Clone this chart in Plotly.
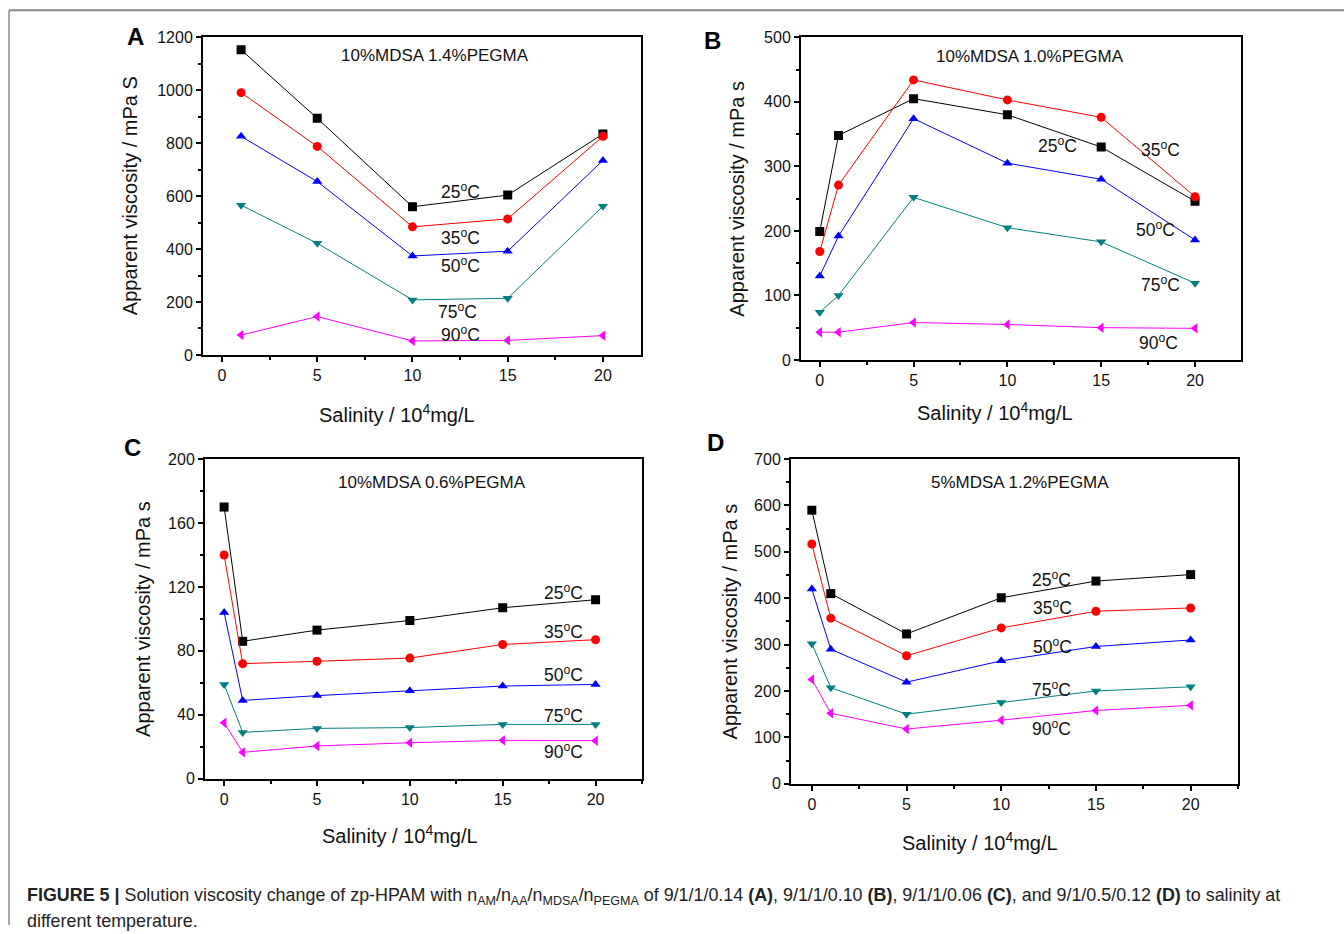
import plotly.graph_objects as go

W, H = 1344, 934
# empirical vertical mapping of the photographed page: shown_y = 0.98*fig_y + 7.7
VS, VO = 0.98, 7.7

temps = ["25", "35", "50", "75", "90"]
colors = ["#000000", "#FF0000", "#0000FF", "#008080", "#FF00FF"]
symbols = ["square", "circle", "triangle-up", "triangle-down", "triangle-left"]

# Panel A
xA = [1, 5, 10, 15, 20]
A_25 = [1153, 894, 560, 604, 835]
A_35 = [991, 788, 484, 514, 826]
A_50 = [826, 655, 374, 392, 735]
A_75 = [566, 422, 208, 214, 562]
A_90 = [75, 145, 53, 55, 73]

# Panel B
xB = [0, 1, 5, 10, 15, 20]
B_25 = [199, 348, 405, 380, 330, 246]
B_35 = [168, 271, 434, 403, 376, 253]
B_50 = [130, 192, 374, 305, 280, 186]
B_75 = [74, 100, 252, 205, 183, 119]
B_90 = [43, 43, 58, 55, 50, 49]

# Panel C
xC = [0, 1, 5, 10, 15, 20]
C_25 = [170, 86, 93, 99, 107, 112]
C_35 = [140, 72, 73.5, 75.5, 84, 87]
C_50 = [104, 49, 52, 55, 58, 59]
C_75 = [59, 29, 31.5, 32, 34, 34]
C_90 = [35, 16.5, 20.5, 22.5, 24, 23.8]

# Panel D
xD = [0, 1, 5, 10, 15, 20]
D_25 = [590, 410, 323, 401, 437, 451]
D_35 = [517, 357, 276, 336, 372, 379]
D_50 = [420, 290, 219, 265, 296, 310]
D_75 = [302, 207, 150, 175, 200, 209]
D_90 = [225, 152, 118, 137, 158, 169]

panels = [
    dict(name="A", x=xA, ys=[A_25, A_35, A_50, A_75, A_90], ymax=1200, dy=200,
         xr=[-1.0, 22.0], box=(203, 641, 37, 354),
         title="10%MDSA 1.4%PEGMA", title_xy=(435, 55),
         ylab="Apparent viscosity / mPa S", ylab_x=130, xlab_xy=(397, 412),
         letter_xy=(135, 36),
         temp_xy=[(460, 190), (460, 236), (460, 264), (457, 310), (460, 333)]),
    dict(name="B", x=xB, ys=[B_25, B_35, B_50, B_75, B_90], ymax=500, dy=100,
         xr=[-1.0, 22.45], box=(801, 1241, 37, 359),
         title="10%MDSA 1.0%PEGMA", title_xy=(1030, 56),
         ylab="Apparent viscosity / mPa s", ylab_x=737, xlab_xy=(995, 410),
         letter_xy=(712, 40),
         temp_xy=[(1057, 144), (1160, 148), (1155, 228), (1160, 283), (1158, 341)]),
    dict(name="C", x=xC, ys=[C_25, C_35, C_50, C_75, C_90], ymax=200, dy=40,
         xr=[-1.03, 22.5], box=(205, 642, 458, 777),
         title="10%MDSA 0.6%PEGMA", title_xy=(432, 481),
         ylab="Apparent viscosity / mPa s", ylab_x=143, xlab_xy=(400, 833),
         letter_xy=(132, 446),
         temp_xy=[(563, 591), (563, 630), (563, 672), (563, 713), (563, 749)]),
    dict(name="D", x=xD, ys=[D_25, D_35, D_50, D_75, D_90], ymax=700, dy=100,
         xr=[-1.1, 22.5], box=(791, 1238, 458, 782),
         title="5%MDSA 1.2%PEGMA", title_xy=(1020, 481),
         ylab="Apparent viscosity / mPa s", ylab_x=730, xlab_xy=(980, 840),
         letter_xy=(715, 441),
         temp_xy=[(1051, 578), (1052, 606), (1052, 645), (1051, 687), (1051, 726)]),
]

FONT = "Liberation Sans, Arial, sans-serif"

fig = go.Figure()
annotations = []
shapes = []


def px(x):
    return x / W


def py(y):
    return 1 - ((y - VO) / VS) / H


for i, p in enumerate(panels):
    k = "" if i == 0 else str(i + 1)
    xa, ya = "x" + k, "y" + k
    x0, x1, y0, y1 = p["box"]
    for t, c, s, yv in zip(temps, colors, symbols, p["ys"]):
        fig.add_trace(go.Scatter(
            x=p["x"], y=yv, mode="lines+markers", xaxis=xa, yaxis=ya,
            line=dict(color=c, width=1),
            marker=dict(symbol=s, color=c, size=9, line=dict(width=0)),
            showlegend=False, name=t + "°C"))
    axis_common = dict(showgrid=False, zeroline=False, showline=True,
                       linecolor="black", linewidth=2, mirror=True,
                       ticks="outside", tickwidth=2, ticklen=5,
                       tickcolor="black",
                       tickfont=dict(family=FONT, size=16, color="#111"))
    fig.layout["xaxis" + k] = dict(
        axis_common, domain=[px(x0), px(x1)], range=p["xr"],
        anchor=ya, tick0=0, dtick=5,
        minor=dict(ticks="outside", ticklen=3, tickwidth=1.5, dtick=2.5,
                   tick0=0, tickcolor="black"))
    fig.layout["yaxis" + k] = dict(
        axis_common, domain=[py(y1), py(y0)], range=[0, p["ymax"]],
        anchor=xa, tick0=0, dtick=p["dy"],
        minor=dict(ticks="outside", ticklen=3, tickwidth=1.5,
                   dtick=p["dy"] / 2, tick0=0, tickcolor="black"))
    annotations.append(dict(
        x=px(p["title_xy"][0]), y=py(p["title_xy"][1]), xref="paper",
        yref="paper", text=p["title"], showarrow=False,
        font=dict(family=FONT, size=17, color="#111"),
        xanchor="center", yanchor="middle"))
    for t, (tx, ty) in zip(temps, p["temp_xy"]):
        annotations.append(dict(
            x=px(tx), y=py(ty), xref="paper", yref="paper",
            text=t + "<sup>o</sup>C", showarrow=False,
            font=dict(family=FONT, size=17.5, color="#111"),
            xanchor="center", yanchor="middle"))
    annotations.append(dict(
        x=px(p["ylab_x"]), y=py((y0 + y1) / 2), xref="paper", yref="paper",
        text=p["ylab"], textangle=-90, showarrow=False,
        font=dict(family=FONT, size=20, color="#111"),
        xanchor="center", yanchor="middle"))
    annotations.append(dict(
        x=px(p["xlab_xy"][0]), y=py(p["xlab_xy"][1]), xref="paper",
        yref="paper", text="Salinity / 10<sup>4</sup>mg/L", showarrow=False,
        font=dict(family=FONT, size=20, color="#111"),
        xanchor="center", yanchor="middle"))
    annotations.append(dict(
        x=px(p["letter_xy"][0]), y=py(p["letter_xy"][1]), xref="paper",
        yref="paper", text="<b>" + p["name"] + "</b>", showarrow=False,
        font=dict(family=FONT, size=24, color="#000"),
        xanchor="center", yanchor="middle"))

caption1 = ("<b>FIGURE 5 |</b> Solution viscosity change of zp-HPAM with "
            "n<sub>AM</sub>/n<sub>AA</sub>/n<sub>MDSA</sub>/n<sub>PEGMA</sub> "
            "of 9/1/1/0.14 <b>(A)</b>, 9/1/1/0.10 <b>(B)</b>, 9/1/1/0.06 "
            "<b>(C)</b>, and 9/1/0.5/0.12 <b>(D)</b> to salinity at")
caption2 = "different temperature."
annotations.append(dict(x=px(25), y=py(895), xref="paper", yref="paper",
                        text=caption1, showarrow=False, xanchor="left",
                        yanchor="middle",
                        font=dict(family=FONT, size=17.9, color="#222")))
annotations.append(dict(x=px(25), y=py(919), xref="paper", yref="paper",
                        text=caption2, showarrow=False, xanchor="left",
                        yanchor="middle",
                        font=dict(family=FONT, size=17.9, color="#222")))

shapes.append(dict(type="line", xref="paper", yref="paper",
                   x0=px(9), x1=1, y0=py(10), y1=py(10),
                   line=dict(color="#888888", width=2)))
shapes.append(dict(type="line", xref="paper", yref="paper",
                   x0=px(9), x1=px(9), y0=py(10), y1=0,
                   line=dict(color="#888888", width=1.5)))

fig.update_layout(width=W, height=H, autosize=False,
                  margin=dict(l=0, r=0, t=0, b=0),
                  paper_bgcolor="white", plot_bgcolor="white",
                  annotations=annotations, shapes=shapes)

fig.write_html("out.html")
